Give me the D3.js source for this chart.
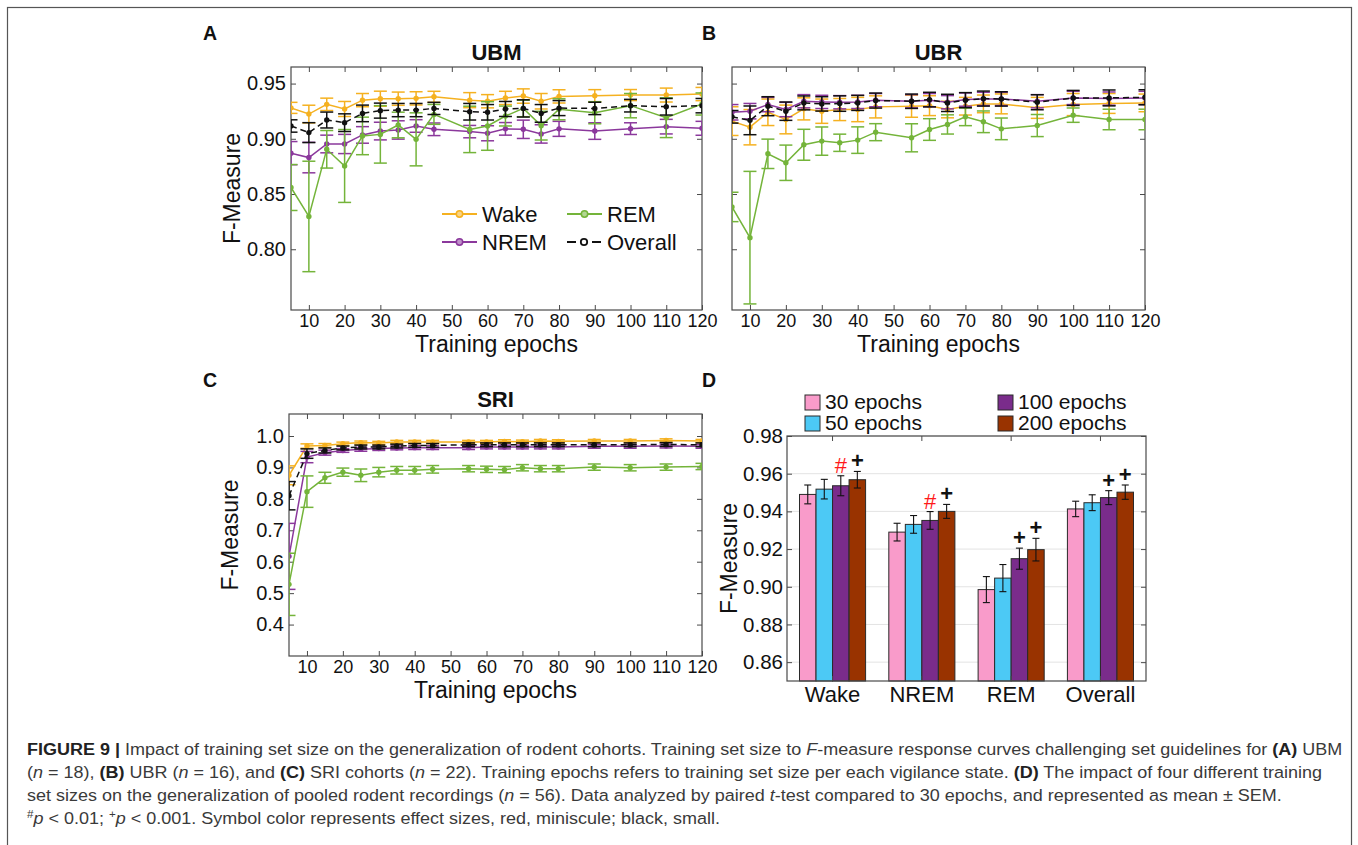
<!DOCTYPE html>
<html><head><meta charset="utf-8">
<script src="https://cdn.jsdelivr.net/npm/d3@7"></script>
<style>
body{margin:0;background:#fff}
svg{display:block}
text{font-family:"Liberation Sans",Arial,Helvetica,sans-serif}
</style>
</head><body>
<svg id="fig" width="1358" height="845"></svg>
<script>
// ---------------- DATA ----------------
const epochs = [5,10,15,20,25,30,35,40,45,55,60,65,70,75,80,90,100,110,120];
const epochTicks = [10,20,30,40,50,60,70,80,90,100,110,120];
const stateNames = ["Wake","NREM","REM","Overall"];

// Panel A – UBM
const ubmWake    = [0.928,0.9224,0.9312,0.927,0.935,0.9363,0.9363,0.9366,0.938,0.935,0.934,0.937,0.9387,0.934,0.9384,0.939,0.9396,0.9396,0.9405];
const ubmWakeErr = [0.005,0.008,0.0056,0.0068,0.006,0.0068,0.006,0.006,0.005,0.0068,0.006,0.006,0.0065,0.007,0.006,0.0055,0.005,0.0063,0.006];
const ubmNrem    = [0.887,0.883,0.8953,0.8953,0.9035,0.907,0.908,0.9116,0.9086,0.9065,0.905,0.909,0.9086,0.9044,0.909,0.907,0.9092,0.911,0.9095];
const ubmNremErr = [0.0105,0.0138,0.008,0.0087,0.0075,0.008,0.0083,0.0057,0.0057,0.0056,0.0068,0.0057,0.0083,0.0083,0.0068,0.0075,0.0053,0.0066,0.0063];
const ubmRem     = [0.8559,0.8297,0.8905,0.8754,0.9026,0.904,0.9125,0.8995,0.9221,0.9085,0.9116,0.9206,0.9275,0.9119,0.9267,0.9236,0.93,0.9191,0.9315];
const ubmRemErr  = [0.0208,0.05,0.017,0.033,0.017,0.026,0.0116,0.024,0.009,0.021,0.022,0.009,0.0075,0.013,0.0095,0.01,0.011,0.018,0.01];
const ubmAll     = [0.9116,0.9056,0.917,0.9146,0.923,0.9255,0.926,0.926,0.9275,0.9245,0.924,0.927,0.9275,0.923,0.9278,0.9275,0.93,0.929,0.93];
const ubmAllErr  = [0.0056,0.009,0.0072,0.008,0.0075,0.0068,0.006,0.006,0.0055,0.0075,0.007,0.0068,0.0078,0.008,0.0068,0.0056,0.0057,0.0075,0.0065];

// Panel B – UBR
const ubrWake    = [0.916,0.9105,0.924,0.9175,0.9271,0.925,0.9265,0.9265,0.9289,0.9295,0.93,0.9265,0.9295,0.9316,0.9316,0.928,0.931,0.932,0.9325];
const ubrWakeErr = [0.013,0.016,0.012,0.013,0.01,0.011,0.01,0.011,0.01,0.01,0.009,0.0075,0.008,0.008,0.009,0.0095,0.01,0.009,0.008];
const ubrNrem    = [0.924,0.925,0.931,0.9265,0.934,0.9334,0.9331,0.9334,0.935,0.934,0.935,0.9331,0.9355,0.9361,0.9361,0.934,0.937,0.9364,0.937];
const ubrNremErr = [0.007,0.007,0.0065,0.0065,0.006,0.006,0.006,0.006,0.006,0.006,0.006,0.006,0.006,0.006,0.006,0.006,0.006,0.006,0.006];
const ubrRem     = [0.8383,0.8105,0.8864,0.8783,0.8946,0.8979,0.8964,0.8988,0.906,0.9009,0.9084,0.913,0.9199,0.9154,0.909,0.912,0.9214,0.9175,0.9175];
const ubrRemErr  = [0.0133,0.06,0.0133,0.016,0.014,0.0128,0.0078,0.012,0.0077,0.0127,0.0098,0.0087,0.008,0.0098,0.0098,0.01,0.0065,0.0093,0.0093];
const ubrAll     = [0.9199,0.9167,0.9295,0.925,0.9325,0.9316,0.9319,0.9325,0.9346,0.934,0.9355,0.9325,0.935,0.9364,0.9361,0.9331,0.937,0.937,0.9376];
const ubrAllErr  = [0.0057,0.013,0.0086,0.0083,0.0063,0.0065,0.007,0.0068,0.0068,0.0065,0.0066,0.0078,0.0068,0.0068,0.0065,0.0068,0.0068,0.0072,0.0068];

// Panel C – SRI
const sriWake    = [0.875,0.968,0.97,0.9756,0.979,0.978,0.981,0.981,0.981,0.981,0.981,0.983,0.982,0.984,0.983,0.984,0.984,0.986,0.984];
const sriWakeErr = [0.03,0.007,0.006,0.005,0.005,0.005,0.005,0.005,0.005,0.005,0.005,0.005,0.005,0.005,0.005,0.005,0.005,0.005,0.005];
const sriNrem    = [0.617,0.933,0.947,0.954,0.9575,0.96,0.962,0.963,0.963,0.963,0.965,0.965,0.965,0.965,0.965,0.967,0.967,0.968,0.967];
const sriNremErr = [0.105,0.018,0.008,0.006,0.006,0.006,0.006,0.006,0.006,0.006,0.006,0.006,0.006,0.006,0.006,0.006,0.006,0.006,0.006];
const sriRem     = [0.528,0.823,0.867,0.885,0.875,0.885,0.891,0.891,0.894,0.896,0.894,0.893,0.899,0.896,0.896,0.901,0.899,0.901,0.903];
const sriRemErr  = [0.099,0.05,0.0175,0.013,0.02,0.015,0.012,0.012,0.012,0.01,0.01,0.01,0.01,0.01,0.01,0.01,0.01,0.01,0.01];
const sriAll     = [0.81,0.944,0.954,0.962,0.965,0.965,0.968,0.97,0.97,0.972,0.972,0.972,0.972,0.972,0.972,0.972,0.972,0.973,0.972];
const sriAllErr  = [0.045,0.015,0.008,0.006,0.006,0.006,0.006,0.006,0.006,0.006,0.006,0.006,0.006,0.006,0.006,0.006,0.006,0.006,0.006];

// Panel D – pooled recordings
const barCategories = ["Wake","NREM","REM","Overall"];
const barSeries = ["30 epochs","50 epochs","100 epochs","200 epochs"];
const bar30  = [0.949,0.929,0.8985,0.9413];
const err30  = [0.005,0.0047,0.0069,0.0041];
const bar50  = [0.9518,0.9331,0.9046,0.9446];
const err50  = [0.0052,0.0047,0.0072,0.0042];
const bar100 = [0.9536,0.9352,0.9149,0.9473];
const err100 = [0.0053,0.0047,0.0056,0.0037];
const bar200 = [0.9568,0.94,0.9197,0.9502];
const err200 = [0.0044,0.0037,0.006,0.0038];
const sig100 = ["#","#","+","+"];
const sig200 = ["+","+","+","+"];
const ticksAB = [0.80,0.85,0.90,0.95];
const ticksC  = [0.4,0.5,0.6,0.7,0.8,0.9,1.0];
const ticksD  = [0.86,0.88,0.90,0.92,0.94,0.96,0.98];

// ---------------- STYLE ----------------
const lineColors = {Wake:"#f5b120", NREM:"#8b389c", REM:"#74b43a", Overall:"#111111"};
const barColors = ["#f99bca","#4cc9f5","#7a2c8b","#993300"];
const axisColor = "#4a4a4a";

const svg = d3.select("#fig");
svg.append("rect").attr("x",7.5).attr("y",7.5).attr("width",1344).attr("height",870)
  .attr("fill","none").attr("stroke","#555").attr("stroke-width",1.2);

function styleAxis(g, fs){
  g.select(".domain").remove();
  g.selectAll(".tick line").attr("stroke",axisColor).attr("stroke-width",1);
  g.selectAll(".tick text").attr("fill","#111").attr("font-size",fs);
}

function linePanel(cfg){
  const x = d3.scaleLinear().domain([5,120]).range([cfg.x0,cfg.x1]);
  const y = d3.scaleLinear().domain(cfg.yDomain).range([cfg.y1,cfg.y0]);
  const clipId = "clip"+cfg.id;
  svg.append("clipPath").attr("id",clipId).append("rect")
    .attr("x",cfg.x0).attr("y",cfg.y0).attr("width",cfg.x1-cfg.x0).attr("height",cfg.y1-cfg.y0);
  const g = svg.append("g");
  g.append("g").attr("transform",`translate(0,${cfg.y1})`)
    .call(d3.axisBottom(x).tickValues(epochTicks).tickSize(-5).tickSizeOuter(0).tickPadding(4))
    .call(a=>styleAxis(a,18));
  g.append("g").attr("transform",`translate(0,${cfg.y0})`)
    .call(d3.axisTop(x).tickValues(epochTicks).tickSize(-5).tickSizeOuter(0).tickFormat(""))
    .call(a=>styleAxis(a,18));
  g.append("g").attr("transform",`translate(${cfg.x0},0)`)
    .call(d3.axisLeft(y).tickValues(cfg.yTicks).tickSize(-5).tickSizeOuter(0).tickPadding(5)
      .tickFormat(cfg.showY ? d3.format(cfg.fmt) : ""))
    .call(a=>styleAxis(a,20));
  g.append("g").attr("transform",`translate(${cfg.x1},0)`)
    .call(d3.axisRight(y).tickValues(cfg.yTicks).tickSize(-5).tickSizeOuter(0).tickFormat(""))
    .call(a=>styleAxis(a,20));
  g.append("rect").attr("x",cfg.x0).attr("y",cfg.y0).attr("width",cfg.x1-cfg.x0).attr("height",cfg.y1-cfg.y0)
    .attr("fill","none").attr("stroke",axisColor).attr("stroke-width",1.2);

  const plot = svg.append("g").attr("clip-path",`url(#${clipId})`);
  cfg.series.forEach(s=>{
    const col = lineColors[s.name];
    const pts = epochs.map((e,i)=>({e, v:s.values[i], err:s.errors[i]}));
    const eg = plot.append("g").attr("stroke",col).attr("stroke-width",1.5).attr("fill","none");
    pts.forEach(p=>{
      const cx = x(p.e), yt = y(p.v+p.err), yb = y(p.v-p.err);
      eg.append("line").attr("x1",cx).attr("x2",cx).attr("y1",yt).attr("y2",yb);
      eg.append("line").attr("x1",cx-6.5).attr("x2",cx+6.5).attr("y1",yt).attr("y2",yt);
      eg.append("line").attr("x1",cx-6.5).attr("x2",cx+6.5).attr("y1",yb).attr("y2",yb);
    });
    const line = d3.line().x(d=>x(d.e)).y(d=>y(d.v));
    plot.append("path").datum(pts).attr("d",line).attr("fill","none").attr("stroke",col)
      .attr("stroke-width",1.5).attr("stroke-dasharray", s.name==="Overall" ? "6,4" : null);
    plot.append("g").selectAll("circle").data(pts).join("circle")
      .attr("cx",d=>x(d.e)).attr("cy",d=>y(d.v)).attr("r",2.7).attr("fill",col);
  });

  const cxMid = (cfg.x0+cfg.x1)/2;
  svg.append("text").attr("x",cxMid).attr("y",cfg.y0-7).attr("text-anchor","middle")
    .attr("font-size",22).attr("font-weight","bold").attr("fill","#111").text(cfg.title);
  svg.append("text").attr("x",cfg.letterX).attr("y",cfg.letterY).attr("font-size",19.5)
    .attr("font-weight","bold").attr("fill","#111").text(cfg.letter);
  svg.append("text").attr("x",cxMid).attr("y",cfg.y1+42).attr("text-anchor","middle")
    .attr("font-size",23).attr("fill","#111").text("Training epochs");
  if (cfg.showY){
    svg.append("text").attr("transform",`translate(${cfg.x0-51},${(cfg.y0+cfg.y1)/2}) rotate(-90)`)
      .attr("text-anchor","middle").attr("font-size",23).attr("fill","#111").text("F-Measure");
  }
  return {x,y};
}

const ubmSeries = [
  {name:"Wake", values:ubmWake, errors:ubmWakeErr},
  {name:"NREM", values:ubmNrem, errors:ubmNremErr},
  {name:"REM", values:ubmRem, errors:ubmRemErr},
  {name:"Overall", values:ubmAll, errors:ubmAllErr}
];
const ubrSeries = [
  {name:"Wake", values:ubrWake, errors:ubrWakeErr},
  {name:"NREM", values:ubrNrem, errors:ubrNremErr},
  {name:"REM", values:ubrRem, errors:ubrRemErr},
  {name:"Overall", values:ubrAll, errors:ubrAllErr}
];
const sriSeries = [
  {name:"Wake", values:sriWake, errors:sriWakeErr},
  {name:"NREM", values:sriNrem, errors:sriNremErr},
  {name:"REM", values:sriRem, errors:sriRemErr},
  {name:"Overall", values:sriAll, errors:sriAllErr}
];

linePanel({id:"A", x0:291, x1:702, y0:67, y1:310, yDomain:[0.745,0.965], yTicks:ticksAB, fmt:".2f",
  showY:true, title:"UBM", letter:"A", letterX:203, letterY:40, series:ubmSeries});
linePanel({id:"B", x0:732, x1:1145, y0:67, y1:310, yDomain:[0.745,0.965], yTicks:ticksAB, fmt:".2f",
  showY:false, title:"UBR", letter:"B", letterX:702, letterY:40, series:ubrSeries});
linePanel({id:"C", x0:289, x1:702, y0:414, y1:656, yDomain:[0.3,1.07], yTicks:ticksC, fmt:".1f",
  showY:true, title:"SRI", letter:"C", letterX:203, letterY:387, series:sriSeries});

// Legend in panel A
(function(){
  const rows = [
    {name:"Wake", x:442, y:214}, {name:"REM", x:567, y:214},
    {name:"NREM", x:442, y:242}, {name:"Overall", x:567, y:242}
  ];
  const lg = svg.append("g");
  rows.forEach(r=>{
    const col = lineColors[r.name];
    if (r.name==="Overall"){
      lg.append("line").attr("x1",r.x).attr("x2",r.x+9).attr("y1",r.y).attr("y2",r.y).attr("stroke",col).attr("stroke-width",2);
      lg.append("line").attr("x1",r.x+25).attr("x2",r.x+34).attr("y1",r.y).attr("y2",r.y).attr("stroke",col).attr("stroke-width",2);
      lg.append("circle").attr("cx",r.x+17).attr("cy",r.y).attr("r",3.2).attr("fill","#fff").attr("stroke",col).attr("stroke-width",1.8);
    } else {
      lg.append("line").attr("x1",r.x).attr("x2",r.x+35).attr("y1",r.y).attr("y2",r.y).attr("stroke",col).attr("stroke-width",2);
      lg.append("circle").attr("cx",r.x+17.5).attr("cy",r.y).attr("r",3.2).attr("fill",d3.interpolateRgb(col,"#fff")(0.45)).attr("stroke",col).attr("stroke-width",1.5);
    }
    lg.append("text").attr("x",r.x+40).attr("y",r.y+8).attr("font-size",22).attr("fill","#111").text(r.name);
  });
})();

// ---------------- PANEL D ----------------
(function(){
  const X0=787, X1=1146, Y0=436, Y1=681;
  const x0 = d3.scaleBand().domain(barCategories).range([X0,X1]).paddingInner(0.26).paddingOuter(0.14);
  const x1 = d3.scaleBand().domain(barSeries).range([0,x0.bandwidth()]);
  const y = d3.scaleLinear().domain([0.85,0.98]).range([Y1,Y0]);
  const g = svg.append("g");
  g.append("g").selectAll("line").data(ticksD).join("line")
    .attr("x1",X0).attr("x2",X1).attr("y1",d=>y(d)).attr("y2",d=>y(d))
    .attr("stroke","#e3e3e3").attr("stroke-width",1);
  const values = [bar30,bar50,bar100,bar200];
  const errs = [err30,err50,err100,err200];
  const sigs = [null,null,sig100,sig200];
  barSeries.forEach((s,si)=>{
    barCategories.forEach((c,ci)=>{
      const v = values[si][ci], e = errs[si][ci];
      const bx = x0(c)+x1(s);
      g.append("rect").attr("x",bx).attr("y",y(v)).attr("width",x1.bandwidth()).attr("height",Y1-y(v))
        .attr("fill",barColors[si]).attr("stroke","#2a2a2a").attr("stroke-width",1);
      const cx = bx + x1.bandwidth()/2;
      const yt = y(v+e), yb = y(v-e);
      g.append("line").attr("x1",cx).attr("x2",cx).attr("y1",yt).attr("y2",yb).attr("stroke","#111").attr("stroke-width",1.1);
      g.append("line").attr("x1",cx-3.5).attr("x2",cx+3.5).attr("y1",yt).attr("y2",yt).attr("stroke","#111").attr("stroke-width",1.1);
      g.append("line").attr("x1",cx-3.5).attr("x2",cx+3.5).attr("y1",yb).attr("y2",yb).attr("stroke","#111").attr("stroke-width",1.1);
      if (sigs[si]){
        const m = sigs[si][ci];
        g.append("text").attr("x",cx).attr("y",yt-3).attr("text-anchor","middle")
          .attr("font-size",22).attr("font-weight", m==="+" ? "bold" : "normal")
          .attr("fill", m==="#" ? "#ff1a1a" : "#111").text(m);
      }
    });
  });
  g.append("g").attr("transform",`translate(0,${Y1})`)
    .call(d3.axisBottom(x0).tickSize(-5).tickSizeOuter(0).tickPadding(5))
    .call(a=>styleAxis(a,22));
  g.append("g").attr("transform",`translate(0,${Y0})`)
    .call(d3.axisTop(x0).tickSize(-5).tickSizeOuter(0).tickFormat(""))
    .call(a=>styleAxis(a,22));
  g.append("g").attr("transform",`translate(${X0},0)`)
    .call(d3.axisLeft(y).tickValues(ticksD).tickSize(-5).tickSizeOuter(0).tickPadding(4).tickFormat(d3.format(".2f")))
    .call(a=>styleAxis(a,20.5));
  g.append("g").attr("transform",`translate(${X1},0)`)
    .call(d3.axisRight(y).tickValues(ticksD).tickSize(-5).tickSizeOuter(0).tickFormat(""))
    .call(a=>styleAxis(a,20));
  g.append("rect").attr("x",X0).attr("y",Y0).attr("width",X1-X0).attr("height",Y1-Y0)
    .attr("fill","none").attr("stroke",axisColor).attr("stroke-width",1.2);
  svg.append("text").attr("transform",`translate(737,${(Y0+Y1)/2}) rotate(-90)`)
    .attr("text-anchor","middle").attr("font-size",23).attr("fill","#111").text("F-Measure");
  svg.append("text").attr("x",702).attr("y",387).attr("font-size",19.5).attr("font-weight","bold").attr("fill","#111").text("D");
  // legend
  const leg = [{x:805,y:395},{x:805,y:416},{x:998,y:395},{x:998,y:416}];
  barSeries.forEach((s,i)=>{
    svg.append("rect").attr("x",leg[i].x).attr("y",leg[i].y).attr("width",15).attr("height",15)
      .attr("fill",barColors[i]).attr("stroke","#2a2a2a").attr("stroke-width",1);
    svg.append("text").attr("x",leg[i].x+20).attr("y",leg[i].y+14).attr("font-size",21).attr("fill","#111").text(s);
  });
})();

// ---------------- CAPTION ----------------
(function(){
  const lines = [
    [["FIGURE 9 | ","b"],["Impact of training set size on the generalization of rodent cohorts. Training set size to ",""],["F","i"],["-measure response curves challenging set guidelines for ",""],["(A)","b"],[" UBM",""]],
    [["(",""],["n","i"],[" = 18), ",""],["(B)","b"],[" UBR (",""],["n","i"],[" = 16), and ",""],["(C)","b"],[" SRI cohorts (",""],["n","i"],[" = 22). Training epochs refers to training set size per each vigilance state. ",""],["(D)","b"],[" The impact of four different training",""]],
    [["set sizes on the generalization of pooled rodent recordings (",""],["n","i"],[" = 56). Data analyzed by paired ",""],["t","i"],["-test compared to 30 epochs, and represented as mean \u00b1 SEM.",""]],
    [["#","sup"],["p","i"],[" < 0.01; ",""],["+","sup"],["p","i"],[" < 0.001. Symbol color represents effect sizes, red, miniscule; black, small.",""]]
  ];
  const ys = [755,778,801,824];
  const nodes = [];
  lines.forEach((segs,li)=>{
    const t = svg.append("text").attr("x",0).attr("y",0).attr("font-size",17).attr("fill","#3a3a3a");
    let raised = false;
    segs.forEach(([txt,st])=>{
      const ts = t.append("tspan").text(txt);
      if (st==="b") ts.attr("font-weight","bold").attr("fill","#222");
      if (st==="i") ts.attr("font-style","italic");
      if (st==="sup"){ ts.attr("font-size",11).attr("dy",-6); raised = true; }
      else if (raised){ ts.attr("dy",6); raised = false; }
    });
    nodes.push(t);
  });
  const w0 = nodes[0].node().getComputedTextLength();
  const s = (1343-27)/w0;
  nodes.forEach((t,i)=>t.attr("transform",`translate(27,${ys[i]}) scale(${s},1)`));
})();
</script>
</body></html>
